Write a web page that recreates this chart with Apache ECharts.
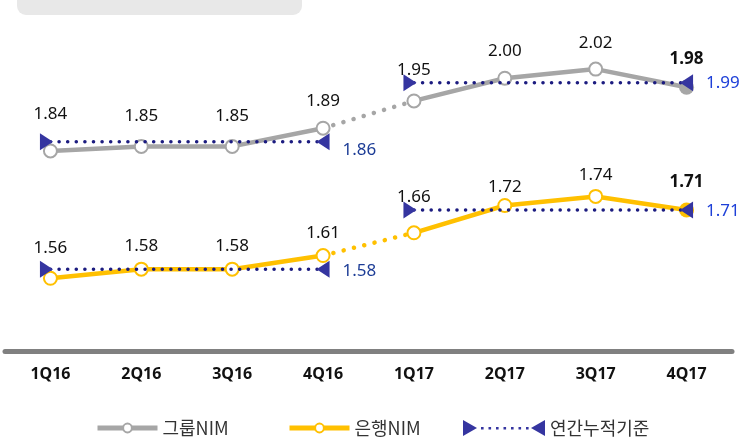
<!DOCTYPE html>
<html>
<head>
<meta charset="utf-8">
<script src="https://cdn.jsdelivr.net/npm/echarts@6/dist/echarts.min.js"></script>
<style>
  html, body { margin: 0; padding: 0; background: #fff; }
  #chart { width: 752px; height: 438px; }
</style>
</head>
<body>
<div id="chart"></div>
<script>
// 분기
var quarters = ['1Q16', '2Q16', '3Q16', '4Q16', '1Q17', '2Q17', '3Q17', '4Q17'];
// 그룹 / 은행 NIM (%)
var groupNim = [1.84, 1.85, 1.85, 1.89, 1.95, 2.00, 2.02, 1.98];
var bankNim = [1.56, 1.58, 1.58, 1.61, 1.66, 1.72, 1.74, 1.71];
// 연간누적기준
var groupCum = [1.86, 1.99];
var bankCum = [1.58, 1.71];

var GRAY = '#a6a6a6', GOLD = '#ffc000', NAVY = '#1c1c80', TRI = '#3535a0';
var FONT = '"Noto Sans", sans-serif';
var KFONT = '"Noto Sans CJK KR", sans-serif';

// 라벨 위치 미세조정 (px, 스타일용)
var groupLabelDy = [-10, -3, -3, 0, -4, 0, 1, -1];
var bankLabelDy = [-3, 4, 4, 5, -9, 9, 6, -1];

// 구간만 남기고 나머지는 null
function seg(arr, from, to) {
  return arr.map(function (v, i) { return (i >= from && i <= to) ? v : null; });
}

function mainSeries(name, arr, from, to, color, dy) {
  var data = seg(arr, from, to).map(function (v, i) {
    if (v == null) return null;
    var item = { value: v, label: { offset: [0, dy[i]] } };
    if (i === 7) {
      item.symbol = 'circle';
      item.symbolSize = 15;
      item.label.fontWeight = 'bold';
    }
    return item;
  });
  return {
    name: name, type: 'line', data: data, z: 3,
    symbol: 'emptyCircle', symbolSize: 13,
    itemStyle: { color: color, borderWidth: 2.5 },
    lineStyle: { color: color, width: 4.5 },
    label: {
      show: true, position: 'top', distance: 11,
      color: '#111', fontSize: 17, fontFamily: FONT,
      formatter: function (p) { return p.value.toFixed(2); }
    }
  };
}

function linkSeries(name, arr, color) {
  return {
    name: name, type: 'line', data: seg(arr, 3, 4), z: 2,
    symbol: 'none', silent: true,
    lineStyle: { color: color, width: 4.5, type: [0.1, 10.5], cap: 'round' }
  };
}

function cumSeries(val, from, to, labelColor, dy) {
  var data = quarters.map(function (q, i) {
    if (i < from || i > to) return null;
    if (i === from) return { value: val, symbolRotate: -90, symbolOffset: [-4, 0] };
    if (i === to) {
      return {
        value: val, symbolRotate: 90,
        label: {
          show: true, position: 'right', distance: 13, offset: [0, dy],
          color: labelColor, fontSize: 17, fontFamily: FONT,
          formatter: function (p) { return p.value.toFixed(2); }
        }
      };
    }
    return { value: val, symbol: 'none' };
  });
  return {
    name: '연간누적기준', type: 'line', data: data, z: 5,
    symbol: 'triangle', symbolSize: [17, 13],
    itemStyle: { color: TRI },
    lineStyle: { color: NAVY, width: 3.5, type: [0.1, 8.5], cap: 'round' }
  };
}

var cumIcon = 'path://M0,0 L14,8 L0,16 Z M82,0 L68,8 L82,16 Z' +
  ' M18,7 h2.6 v2.6 h-2.6 Z M25.5,7 h2.6 v2.6 h-2.6 Z M33,7 h2.6 v2.6 h-2.6 Z' +
  ' M40.5,7 h2.6 v2.6 h-2.6 Z M48,7 h2.6 v2.6 h-2.6 Z M55.5,7 h2.6 v2.6 h-2.6 Z' +
  ' M63,7 h2.6 v2.6 h-2.6 Z';

var legendBase = {
  top: 419, padding: 0, itemWidth: 60, itemHeight: 11, itemGap: 0,
  lineStyle: { width: 5 },
  textStyle: { fontSize: 18, color: '#333', fontFamily: KFONT }
};

var option = {
  animation: false,
  backgroundColor: '#fff',
  graphic: [{
    type: 'rect', left: 17, top: -12,
    shape: { width: 285, height: 27, r: 9 },
    style: { fill: '#e8e8e8' }
  }],
  grid: { left: 5, right: 20, top: 10, bottom: 87 },
  legend: [
    Object.assign({}, legendBase, { left: 95, data: ['그룹NIM'] }),
    Object.assign({}, legendBase, { left: 287, data: ['은행NIM'] }),
    Object.assign({}, legendBase, {
      left: 463, itemWidth: 82, itemHeight: 16,
      data: [{ name: '연간누적기준', icon: cumIcon }]
    })
  ],
  xAxis: {
    type: 'category', data: quarters, boundaryGap: true,
    axisLine: { lineStyle: { color: '#808080', width: 5 } },
    axisTick: { show: false },
    axisLabel: { margin: 15, fontSize: 16, color: '#111', fontFamily: FONT, fontWeight: 'bold' }
  },
  yAxis: {
    type: 'value', min: 1.4, max: 2.15, show: false,
    splitLine: { show: false }
  },
  series: [
    mainSeries('그룹NIM', groupNim, 0, 3, GRAY, groupLabelDy),
    mainSeries('그룹NIM', groupNim, 4, 7, GRAY, groupLabelDy),
    linkSeries('그룹NIM', groupNim, GRAY),
    mainSeries('은행NIM', bankNim, 0, 3, GOLD, bankLabelDy),
    mainSeries('은행NIM', bankNim, 4, 7, GOLD, bankLabelDy),
    linkSeries('은행NIM', bankNim, GOLD),
    cumSeries(groupCum[0], 0, 3, '#1c3c96', 8),
    cumSeries(groupCum[1], 4, 7, '#1e40d8', 0),
    cumSeries(bankCum[0], 0, 3, '#1c3c96', 2),
    cumSeries(bankCum[1], 4, 7, '#1e40d8', 1)
  ]
};

var myChart = echarts.init(document.getElementById('chart'));
myChart.setOption(option);
</script>
</body>
</html>
